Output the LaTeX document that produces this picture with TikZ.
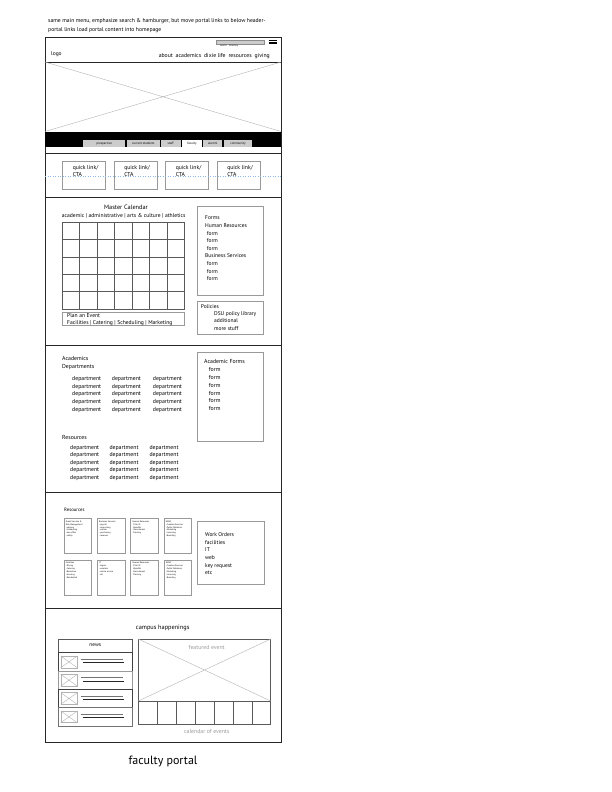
\documentclass[tikz,border=0pt]{standalone}
\usepackage{fontspec}
\setmainfont{PT Sans}
\usetikzlibrary{positioning}
\begin{document}
\begin{tikzpicture}[x=1pt,y=-1pt,inner sep=0pt,node distance=8pt,
	wire/.style={draw=black!85,line width=.7pt},
	sbox/.style={draw=black!40,line width=.5pt},
	dbox/.style={draw=black!65,line width=.5pt},
	ph/.style={draw=black!30,line width=.4pt},
	guide/.style={draw=cyan!60!blue!45,dotted,line width=.5pt},
	txt/.style={anchor=west,font=\fontsize{5.5}{7.6}\selectfont},
	blk/.style={anchor=north west,align=left,font=\fontsize{5.5}{7.6}\selectfont},
	dept/.style={anchor=west,font=\fontsize{5.8}{7}\selectfont},
	head/.style={font=\fontsize{6.3}{7}\selectfont},
	tab/.style={font=\fontsize{3.2}{3.5}\selectfont},
	mini/.style={anchor=north west,align=left,font=\fontsize{2.2}{2.9}\selectfont},
	ql/.style={sbox,minimum width=43pt,minimum height=28pt},
	grey/.style={text=black!40,font=\fontsize{5.8}{7}\selectfont}]
	\useasboundingbox (0,0) rectangle (612,792);

	\node[anchor=north west,align=left,font=\fontsize{5.65}{9}\selectfont] (note) at (48,18.3)
		{same main menu, emphasize search \& hamburger, but move portal links to below header-\\
		 portal links load portal content into homepage};

	% header
	\draw[wire] (45,37) rectangle (281,742);
	\draw[wire] (45,62) -- (281,62);
	\node[txt] (logo) at (51,54) {logo};
	\node[txt,anchor=east,font=\fontsize{5.75}{7}\selectfont] (nav) at (270,56.5) {about\enspace academics\enspace dixie life\enspace resources\enspace giving};
	\draw[fill=black!20,draw=black!45,line width=.3pt] (215.7,40) rectangle (264,44.3);
	\node[anchor=west,font=\fontsize{2.4}{3}\selectfont] (search) at (220,45.8) {search\quad directory};
	\foreach \y in {40.6,42.2,43.8}
		\draw[line width=.9pt] (268.7,\y) -- (277,\y);
	\draw[ph] (45,62) -- (281,131.5) (45,131.5) -- (281,62);

	% portal tabs
	\fill (45,131.5) rectangle (281,146.8);
	\foreach \a/\b/\t [count=\i] in {83.3/125/prospective,126.7/160/current students,160.7/180.7/staff,182.3/201.7/faculty,203.3/222.3/alumni,223.7/252.3/community}
		{\fill[black!20] (\a,140) rectangle (\b,146.8);
		 \node[tab] (tab\i) at ({(\a+\b)/2},143.6) {\t};}
	\fill[white] (182.3,140) rectangle (201.7,146.8);
	\node[tab] (tabf) at (192,143.6) {faculty};
	\draw[wire] (45,153) -- (281,153);

	% quick links
	\node[ql] (q1) at (83.8,175) {};
	\node[ql,right=of q1] (q2) {};
	\node[ql,right=of q2] (q3) {};
	\node[ql,right=of q3] (q4) {};
	\foreach \i in {1,...,4}
		\node[blk,font=\fontsize{5.7}{7}\selectfont] (qt\i) at ([shift={(10.5pt,-4.3pt)}]q\i.north west) {quick link/\\CTA};
	\draw[guide] (45,176.5) -- (281,176.5);
	\draw[wire] (45,197) -- (281,197);

	% calendar
	\node[head] (mc) at (126,207.7) {Master Calendar};
	\node[font=\fontsize{5.6}{6}\selectfont] (filt) at (123.7,215.7) {academic | administrative | arts \& culture | athletics};
	\draw[dbox] (62.3,222.3) rectangle (184.3,309);
	\foreach \i in {1,...,6}
		\draw[dbox] ({62.3+\i*17.43},222.3) -- ++(0,86.7);
	\foreach \j in {1,...,4}
		\draw[dbox] (62.3,{222.3+\j*17.34}) -- ++(122,0);
	\draw[sbox] (62.3,312.3) rectangle (184.3,325.7);
	\node[blk,font=\fontsize{5.6}{7}\selectfont] (plan) at (67,313.6) {Plan an Event\\Facilities | Catering | Scheduling | Marketing};

	\draw[sbox] (197.3,206.7) rectangle (263.3,295.7);
	\node[blk] (forms) at (205,215.8) {Forms\\Human Resources\\\hspace{1.7pt}form\\\hspace{1.7pt}form\\\hspace{1.7pt}form\\
		Business Services\\\hspace{1.7pt}form\\\hspace{1.7pt}form\\\hspace{1.7pt}form};
	\draw[sbox] (197.3,301.7) rectangle (263.3,334.3);
	\node[blk] (pol) at (200.7,304.2) {Policies};
	\node[blk,font=\fontsize{5.5}{6.5}\selectfont] (poll) at (214,311.8) {DSU policy library\\additional\\[1.5pt]more stuff};
	\draw[wire] (45,345) -- (281,345);

	% academics
	\node[blk,font=\fontsize{5.8}{8}\selectfont] (acad) at (62,356.6) {Academics\\Departments};
	\foreach \c/\x in {1/72,2/111.7,3/152.7}
		\foreach \r in {0,...,4}
			\node[dept] (ad\c\r) at (\x,{379.3+\r*7.6}) {department};
	\node[txt,font=\fontsize{5.8}{7}\selectfont] (res) at (62,437.7) {Resources};
	\foreach \c/\x in {1/70,2/109.3,3/149.3}
		\foreach \r in {0,...,4}
			\node[dept] (rd\c\r) at (\x,{447.7+\r*7.6}) {department};
	\draw[sbox] (197.3,352.3) rectangle (263.3,441.7);
	\node[blk,font=\fontsize{5.8}{7.8}\selectfont] (af) at (204,359.5) {Academic Forms\\\hspace{4.7pt}form\\\hspace{4.7pt}form\\\hspace{4.7pt}form\\\hspace{4.7pt}form\\\hspace{4.7pt}form\\\hspace{4.7pt}form};
	\draw[wire] (45,492) -- (281,492);

	% resources
	\node[txt,font=\fontsize{4.8}{6}\selectfont] (res2) at (64,510) {Resources};
	\foreach \x/\y/\t [count=\i] in {
		64/518.3/{Event Services \&\\Risk Management\\\,-parking\\\,-scheduling\\\,-box office\\\,-safety},
		97.3/518.3/{Business Services\\\,-payroll\\\,-accounting\\\,-cashier\\\,-purchasing\\\,-reserves},
		130.7/518.3/{Human Resources\\\,-Title IX\\\,-Benefits\\\,-Recruitment\\\,-Training},
		164/518.3/{UMAC\\\,-Creative Services\\\,-Public Relations\\\,-Marketing\\\,-Licensing\\\,-Branding},
		64/560/{Facilities\\\,-Dining\\\,-Catering\\\,-Bookstore\\\,-Housing\\\,-Residential},
		97.3/560/{IT\\\,-logins\\\,-wireless\\\,-online service\\\,-etc},
		130.7/560/{Human Resources\\\,-Title IX\\\,-Benefits\\\,-Recruitment\\\,-Training},
		164/560/{UMAC\\\,-Creative Services\\\,-Public Relations\\\,-Marketing\\\,-Licensing\\\,-Branding}}
		{\draw[sbox] (\x,\y) rectangle ++(27.7,35);
		 \node[mini] (rs\i) at ({\x+1.6},{\y+2.2}) {\t};}
	\draw[sbox] (197.7,521.7) rectangle (264.3,584.3);
	\node[blk] (wo) at (205,532.5) {Work Orders\\facilities\\IT\\web\\key request\\etc};
	\draw[wire] (45,608) -- (281,608);

	% campus happenings
	\node[head] (ch) at (162.7,628.3) {campus happenings};
	\draw[dbox] (58.3,639) rectangle (132.3,652.7);
	\node[font=\fontsize{5.3}{6}\selectfont] (news) at (95.3,645.6) {news};
	\foreach \i/\c in {0/black!75,1/black!40,2/black!75,3/black!55}
		{\draw[draw=\c,line width=.6pt] (58.3,{652.7+\i*18.33}) rectangle ++(74,18.33);
		 \draw[ph] (60.7,{656+\i*18.33}) rectangle ++(16.6,11.7);
		 \draw[ph] (60.7,{656+\i*18.33}) -- ++(16.6,11.7) ++(-16.6,0) -- ++(16.6,-11.7);
		 \draw[black!55,line width=.6pt] (80.7,{659.2+\i*18.33}) -- ++(42.6,0);
		 \draw[black!85,line width=.6pt] (82.7,{662.7+\i*18.33}) -- ++(41.3,0);}
	\draw[dbox] (138.3,639) rectangle (270.7,701);
	\draw[ph] (138.3,639) -- (270.7,701) (138.3,701) -- (270.7,639);
	\node[grey] (fe) at (206.7,647.7) {featured event};
	\foreach \i in {0,...,6}
		\draw[dbox] ({138.3+\i*18.91},701) rectangle ++(18.91,23.3);
	\node[grey] (coe) at (206.7,731) {calendar of events};

	\node[font=\fontsize{12}{14}\selectfont] (cap) at (163,761) {faculty portal};
\end{tikzpicture}
\end{document}
